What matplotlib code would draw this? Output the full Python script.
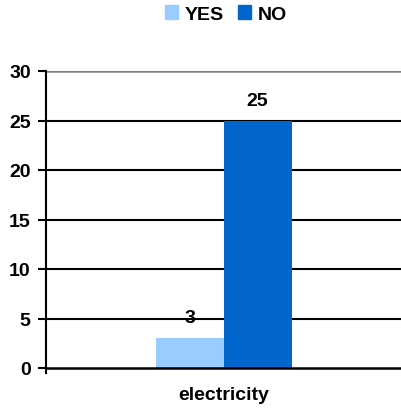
import matplotlib
matplotlib.use("Agg")
import matplotlib.pyplot as plt
from matplotlib.patches import Patch

categories = ["electricity"]
yes_values = [3]
no_values = [25]
yticks = [0, 5, 10, 15, 20, 25, 30]

plt.rcParams["font.family"] = ["Liberation Sans", "DejaVu Sans"]
plt.rcParams["font.weight"] = "bold"

fig = plt.figure(figsize=(4.01, 4.10), dpi=100)
ax = fig.add_axes([46 / 401, 41 / 410, 355 / 401, 297 / 410])

yes_color = "#99ccff"
no_color = "#0066cc"
w = 68 / 355
x = list(range(len(categories)))

for yv in yticks[1:-1]:
    ax.axhline(yv, color="black", lw=1.5, zorder=1)
ax.axhline(30, color="#808080", lw=1.8, zorder=1)

b1 = ax.bar([i - w / 2 for i in x], yes_values, width=w, color=yes_color, zorder=2)
b2 = ax.bar([i + w / 2 for i in x], no_values, width=w, color=no_color, zorder=2)

for bars, vals in ((b1, yes_values), (b2, no_values)):
    for r, v in zip(bars, vals):
        ax.annotate(str(v), (r.get_x() + r.get_width() / 2, v), xytext=(0, 8.5),
                    textcoords="offset points", ha="center", va="bottom",
                    fontsize=14, fontweight="bold", zorder=3)

ax.set_xlim(-0.5, 0.5)
ax.set_ylim(0, 30)
ax.set_yticks(yticks)
ax.set_yticklabels([str(t) for t in yticks], fontsize=14, fontweight="bold")
ax.set_xticks(x)
ax.set_xticklabels(categories, fontsize=14, fontweight="bold")
ax.tick_params(axis="y", length=6, width=1.5, pad=5)
ax.tick_params(axis="x", length=0, pad=13)
for s in ("top", "right"):
    ax.spines[s].set_visible(False)
ax.spines["left"].set_linewidth(1.5)
ax.spines["bottom"].set_linewidth(1.8)
ax.spines["left"].set_bounds(-0.5, 30)
ax.spines["bottom"].set_zorder(3)

handles = [Patch(color=yes_color, label="YES"), Patch(color=no_color, label="NO")]
fig.legend(handles=handles, loc="center", bbox_to_anchor=(226 / 401, 1 - 15 / 410),
           ncol=2, frameon=False, handlelength=0.7, handleheight=0.7,
           handletextpad=0.35, columnspacing=0.7, prop={"weight": "bold", "size": 14})

fig.savefig("out.png", dpi=100)
